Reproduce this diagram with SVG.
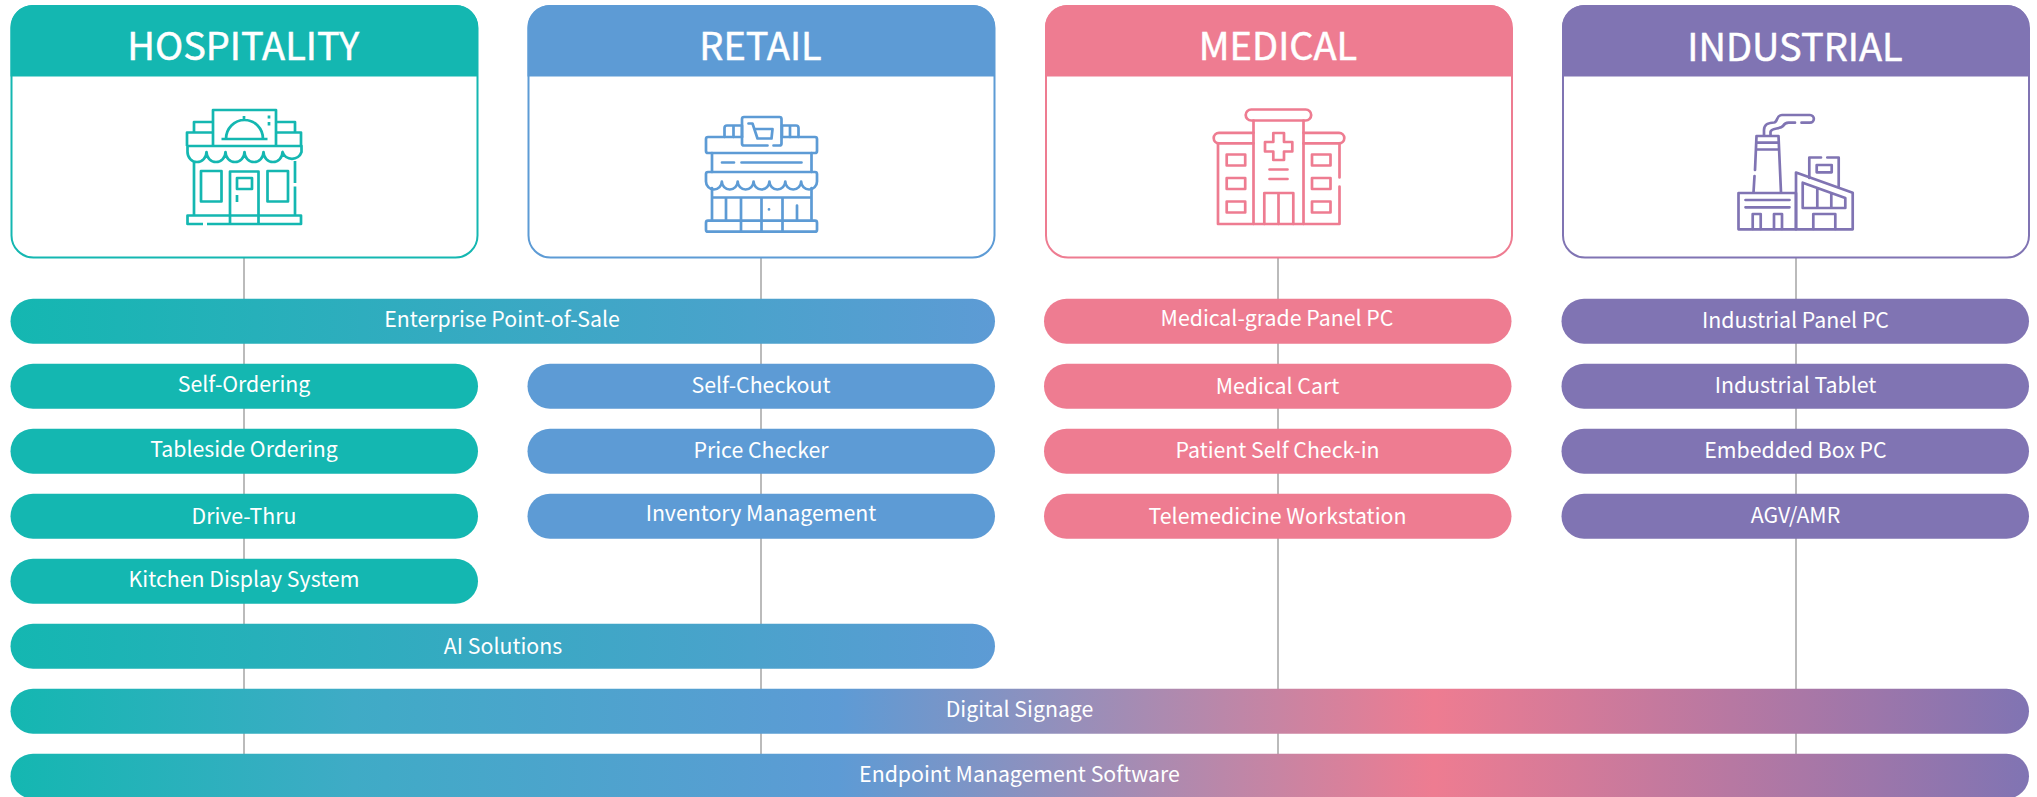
<svg xmlns="http://www.w3.org/2000/svg" width="2037" height="797" viewBox="0 0 2037 797">
<style>
text{font-family:"Noto Sans CJK SC","Noto Sans","Open Sans",sans-serif;fill:#fff;text-anchor:middle}
.h{font-size:38px;stroke:#fff;stroke-width:.5px}
.p{font-size:21.3px}
.card{fill:#fff;stroke-width:2}
.ic{fill:none;stroke-width:2.7;stroke-linejoin:round}
.r{stroke-linecap:round}
.conn{stroke:#bbb;stroke-width:2;fill:none}
.t{fill:#14b7b1}.b{fill:#5d9bd5}.m{fill:#ee7c91}.i{fill:#8074b3}
.st{stroke:#14b7b1}.sb{stroke:#5d9bd5}.sm{stroke:#ee7c91}.si{stroke:#8074b3}
</style>
<defs>
<linearGradient id="g2" gradientUnits="userSpaceOnUse" x1="10.5" y1="0" x2="995" y2="0"><stop offset="0" stop-color="#14b7b1"/><stop offset="1" stop-color="#5d9bd5"/></linearGradient>
<linearGradient id="g4" gradientUnits="userSpaceOnUse" x1="10.5" y1="0" x2="2029" y2="0"><stop offset="0" stop-color="#14b7b1"/><stop offset=".17" stop-color="#3fabc6"/><stop offset=".41" stop-color="#5d9bd5"/><stop offset=".705" stop-color="#ee7c91"/><stop offset="1" stop-color="#8074b3"/></linearGradient>
</defs>
<g id="connectors" class="conn">
<path d="M244 258V760M761 258V760M1278 258V760M1796 258V760"/>
</g>
<g id="hospitality">
<rect class="card st" x="11.5" y="6" width="466" height="251.5" rx="22"/>
<path class="t" d="M10.5 76.5V27a22 22 0 0 1 22-22H456a22 22 0 0 1 22 22V76.5Z"/>
<text class="h" x="243.3" y="60">HOSPITALITY</text>
<g class="ic st">
<path d="M213 146V110H276V146M187 146V132.500H213M276 132.500H301V146M194 132V122H213M276 122H295V132"/>
<path d="M187 146H301.500V152a10 10 0 0 1-19 0a9.500 10 0 0 1-19 0a9.500 10 0 0 1-19 0a9.500 10 0 0 1-19 0a9.500 10 0 0 1-19 0a9.500 10 0 0 1-19 0V146"/>
<path d="M194 161V215M295 161V183M295 186.500V215"/>
<rect x="201" y="171" width="20.500" height="30.500"/><rect x="267.500" y="171" width="20.500" height="30.500"/>
<path d="M230 224V171.500H258.500V224"/><rect x="237" y="178" width="15" height="11"/><path d="M237 195V202"/>
<path d="M203 224H187.500V215.500H301V224H207"/>
<path d="M221.500 139H267.500M226 139a18.500 19 0 0 1 37 0M244 116V120M269 115.500V118.500M269 122V125.500"/>
</g>
</g>
<g id="retail">
<rect class="card sb" x="528.500" y="6" width="466" height="251.5" rx="22"/>
<path class="b" d="M527.500 76.500V27a22 22 0 0 1 22-22H973a22 22 0 0 1 22 22V76.500Z"/>
<text class="h" x="760.500" y="60">RETAIL</text>
<g class="ic sb r">
<path d="M767.500 145.500H744a2 2 0 0 1-2-2V119a2 2 0 0 1 2-2H779.500a2 2 0 0 1 2 2V143.500a2 2 0 0 1-2 2H773.500"/>
<path d="M748.500 123.500H752.500L757.500 138.500H771.500L772.500 129H755"/>
<path d="M742 137V125.500H727a2.500 2.500 0 0 0-2.500 2.500V137M733.500 125.500V137M782 137V125.500H796a2.500 2.500 0 0 1 2.500 2.500V137M790 125.500V137"/>
<path d="M742 137H708a2 2 0 0 0-2 2V151a2 2 0 0 0 2 2H815a2 2 0 0 0 2-2V139a2 2 0 0 0-2-2H782"/>
<path d="M712 153V172M811.500 153V172M722 162.500H734M741.500 162.500H801.500"/>
<path d="M708 172H815a2 2 0 0 1 2 2V181.500a7.930 8 0 0 1-15.860 0a7.930 8 0 0 1-15.860 0a7.930 8 0 0 1-15.860 0a7.930 8 0 0 1-15.860 0a7.930 8 0 0 1-15.860 0a7.930 8 0 0 1-15.860 0a7.930 8 0 0 1-15.860 0V174a2 2 0 0 1 2-2Z"/>
<path d="M712 188V220.500M811.500 188V220.500M712 197.500H811.500M726 197.500V220.500M741 197.500V231.500M782.500 197.500V231.500M761.500 197.500V231.500M797 205.500V220.500M769 209.300V209.400"/>
<rect x="706" y="220.700" width="111" height="11" rx="2"/>
</g>
</g>
<g id="medical">
<rect class="card sm" x="1046" y="6" width="466" height="251.500" rx="22"/>
<path class="m" d="M1045 76.500V27a22 22 0 0 1 22-22H1490a22 22 0 0 1 22 22V76.500Z"/>
<text class="h" x="1278" y="60">MEDICAL</text>
<g class="ic sm r">
<rect x="1245.700" y="109.500" width="65.500" height="11" rx="5.500"/>
<path d="M1253.500 120.500V224M1303.500 120.500V224"/>
<path d="M1253.500 132.800H1219a5.300 5.300 0 0 0 0 10.600H1253.500M1303.500 132.800H1339a5.300 5.300 0 0 1 0 10.600H1303.500"/>
<path d="M1218 143.500V224H1339.500V186.500M1339.500 177.500V143.500"/>
<rect x="1226.700" y="154.500" width="18.500" height="11"/><rect x="1226.700" y="178" width="18.500" height="11"/><rect x="1226.700" y="201.500" width="18.500" height="11"/>
<rect x="1312" y="154.500" width="18.500" height="11"/><rect x="1312" y="178" width="18.500" height="11"/><rect x="1312" y="201.500" width="18.500" height="11"/>
<path d="M1273.300 133H1284V142H1292.300V151.500H1284V160H1273.300V151.500H1265V142H1273.300Z"/>
<path d="M1269.500 169.500H1287.500M1269.500 179H1287.500"/>
<path d="M1264.300 224V193H1293.300V224M1278.500 193V224"/>
</g>
</g>
<g id="industrial">
<rect class="card si" x="1563" y="6" width="466" height="251.500" rx="22"/>
<path class="i" d="M1562 76.500V27a22 22 0 0 1 22-22H2007a22 22 0 0 1 22 22V76.500Z"/>
<text class="h" x="1795" y="60.500">INDUSTRIAL</text>
<g class="ic si r">
<path d="M1756.500 136H1778.500M1756.500 142.700H1778.500M1756.500 149.500H1778.500M1756.500 136L1755 170M1754.500 176L1753.500 192.500M1778.500 136L1781 192.500"/>
<path d="M1764 135V130C1764 124 1770 122.500 1774 122.500C1778 122 1776 115 1782 115H1810a3.800 3.800 0 0 1 0 7.700H1801.500"/>
<path d="M1770.500 135V132C1771 127.500 1780 129.500 1783 126C1785 122.500 1787 122.700 1789 122.700H1795"/>
<rect x="1738.500" y="193" width="57.500" height="36.300"/>
<path d="M1745.500 200H1789.500M1745.500 207.300H1789.500M1752.700 229V214H1760.700V229M1774 229V214H1782V229"/>
<path d="M1796 229.300V172.500L1852.700 192.700V229.300H1796"/>
<path d="M1802.700 182.700L1845.300 198V208H1802.700ZM1817.300 188.300V208M1831.300 193V208"/>
<path d="M1813.300 229V214H1835.300V229"/>
<path d="M1809.300 178V157.500H1821M1827.300 157.500H1838.700V186.500"/>
<rect x="1816.700" y="165" width="15" height="7.300"/>
</g>
</g>
<g id="pill-enterprise-pos"><rect x="10.500" y="298.700" width="984.500" height="45" rx="22.500" fill="url(#g2)"/><text class="p" x="502" y="326.800">Enterprise Point-of-Sale</text></g>
<g id="pill-self-ordering"><rect class="t" x="10.500" y="363.700" width="467.500" height="45" rx="22.500"/><text class="p" x="244" y="392">Self-Ordering</text></g>
<g id="pill-tableside"><rect class="t" x="10.500" y="428.700" width="467.500" height="45" rx="22.500"/><text class="p" x="244" y="457">Tableside Ordering</text></g>
<g id="pill-drive-thru"><rect class="t" x="10.500" y="493.700" width="467.500" height="45" rx="22.500"/><text class="p" x="244" y="524.300">Drive-Thru</text></g>
<g id="pill-kitchen"><rect class="t" x="10.500" y="558.700" width="467.500" height="45" rx="22.500"/><text class="p" x="244" y="586.800">Kitchen Display System</text></g>
<g id="pill-self-checkout"><rect class="b" x="527.500" y="363.700" width="467.500" height="45" rx="22.500"/><text class="p" x="761" y="393.300">Self-Checkout</text></g>
<g id="pill-price-checker"><rect class="b" x="527.500" y="428.700" width="467.500" height="45" rx="22.500"/><text class="p" x="761" y="458.300">Price Checker</text></g>
<g id="pill-inventory"><rect class="b" x="527.500" y="493.700" width="467.500" height="45" rx="22.500"/><text class="p" x="761" y="520.700">Inventory Management</text></g>
<g id="pill-medical-panel"><rect class="m" x="1044" y="298.700" width="467.500" height="45" rx="22.500"/><text class="p" x="1277" y="325.800">Medical-grade Panel PC</text></g>
<g id="pill-medical-cart"><rect class="m" x="1044" y="363.700" width="467.500" height="45" rx="22.500"/><text class="p" x="1277.500" y="393.600">Medical Cart</text></g>
<g id="pill-patient"><rect class="m" x="1044" y="428.700" width="467.500" height="45" rx="22.500"/><text class="p" x="1277.500" y="458.300">Patient Self Check-in</text></g>
<g id="pill-telemedicine"><rect class="m" x="1044" y="493.700" width="467.500" height="45" rx="22.500"/><text class="p" x="1277.500" y="524.300">Telemedicine Workstation</text></g>
<g id="pill-industrial-panel"><rect class="i" x="1561.500" y="298.700" width="467.500" height="45" rx="22.500"/><text class="p" x="1795.500" y="328.300">Industrial Panel PC</text></g>
<g id="pill-industrial-tablet"><rect class="i" x="1561.500" y="363.700" width="467.500" height="45" rx="22.500"/><text class="p" x="1795.500" y="393.300">Industrial Tablet</text></g>
<g id="pill-box-pc"><rect class="i" x="1561.500" y="428.700" width="467.500" height="45" rx="22.500"/><text class="p" x="1795.500" y="458.300">Embedded Box PC</text></g>
<g id="pill-agv"><rect class="i" x="1561.500" y="493.700" width="467.500" height="45" rx="22.500"/><text class="p" x="1795.500" y="523.300">AGV/AMR</text></g>
<g id="pill-ai"><rect x="10.500" y="623.700" width="984.500" height="45" rx="22.500" fill="url(#g2)"/><text class="p" x="503" y="654.300">AI Solutions</text></g>
<g id="pill-signage"><rect x="10.500" y="688.700" width="2018.500" height="45" rx="22.500" fill="url(#g4)"/><text class="p" x="1019.500" y="716.800">Digital Signage</text></g>
<g id="pill-endpoint"><rect x="10.500" y="753.700" width="2018.500" height="45" rx="22.500" fill="url(#g4)"/><text class="p" x="1019.500" y="781.800">Endpoint Management Software</text></g>
</svg>
